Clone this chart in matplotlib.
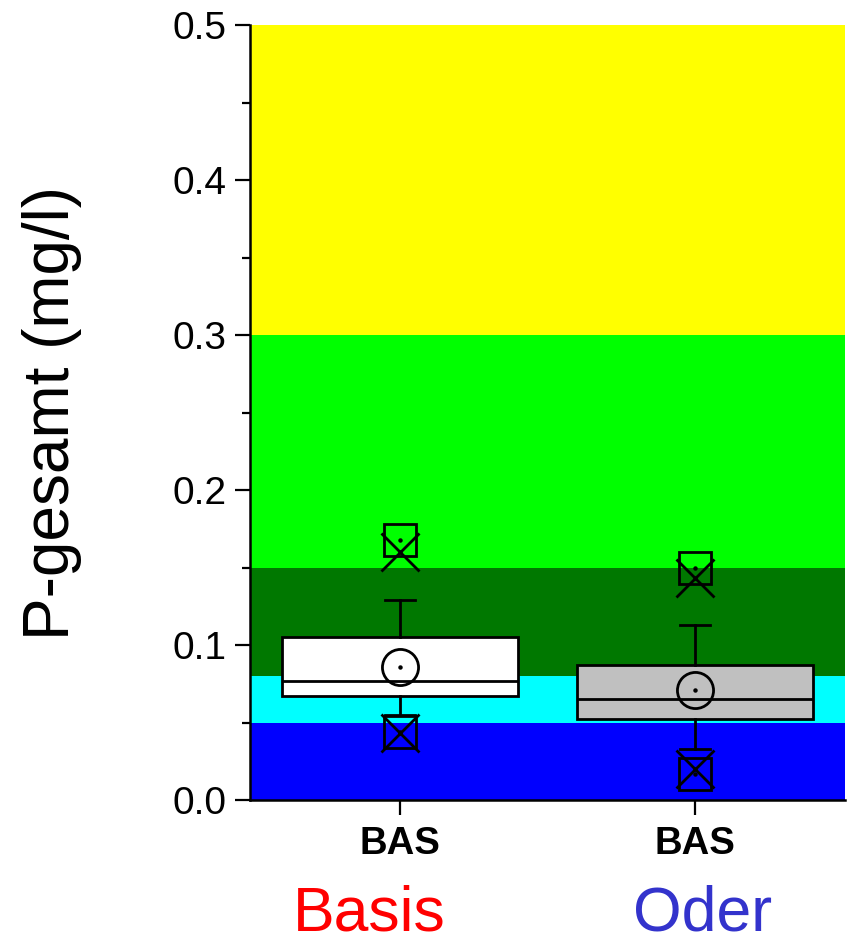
import matplotlib
matplotlib.use("Agg")
import matplotlib.pyplot as plt

plt.rcParams['font.family'] = ['Liberation Sans', 'DejaVu Sans']

# ---- data ----
categories = ["BAS", "BAS"]
groups = ["Basis", "Oder"]
group_colors = ["#FF0000", "#3333CC"]
box_colors = ["#FFFFFF", "#C0C0C0"]
q1 = [0.067, 0.052]
median = [0.077, 0.065]
q3 = [0.105, 0.087]
whisker_low = [0.055, 0.033]
whisker_high = [0.129, 0.113]
mean = [0.086, 0.071]
p1 = [0.043, 0.020]
p99 = [0.160, 0.143]
vmin = [0.044, 0.017]
vmax = [0.168, 0.150]

band_edges = [0.0, 0.05, 0.08, 0.15, 0.30, 0.50]
band_colors = ["#0000FF", "#00FFFF", "#007800", "#00FF00", "#FFFF00"]

yticks = [0.0, 0.1, 0.2, 0.3, 0.4, 0.5]

fig = plt.figure(figsize=(8.5, 9.44), dpi=100)
ax = fig.add_axes([250/850, (944-800)/944, (845-250)/850, (800-25)/944])

for lo, hi, c in zip(band_edges[:-1], band_edges[1:], band_colors):
    ax.axhspan(lo, hi, color=c, lw=0, zorder=0)

positions = [1, 2]
stats = []
for i in range(2):
    stats.append(dict(med=median[i], q1=q1[i], q3=q3[i],
                      whislo=whisker_low[i], whishi=whisker_high[i],
                      mean=mean[i], fliers=[]))
bp = ax.bxp(stats, positions=positions, widths=0.8, patch_artist=True,
            showmeans=False, showfliers=False, capwidths=0.1,
            boxprops=dict(linewidth=2.0, edgecolor='black'),
            medianprops=dict(color='black', linewidth=2.0),
            whiskerprops=dict(color='black', linewidth=2.0),
            capprops=dict(color='black', linewidth=2.0),
            manage_ticks=False)
for patch, c in zip(bp['boxes'], box_colors):
    patch.set_facecolor(c)
    patch.set_zorder(3)
for k in ('medians', 'whiskers', 'caps'):
    for l in bp[k]:
        l.set_zorder(4)

ax.plot(positions, mean, ls='none', marker='o', ms=26, mfc='none',
        mec='black', mew=2.0, zorder=5)
ax.plot(positions, vmin, ls='none', marker='s', ms=23, mfc='none',
        mec='black', mew=2.0, zorder=5)
ax.plot(positions, vmax, ls='none', marker='s', ms=23, mfc='none',
        mec='black', mew=2.0, zorder=5)
ax.plot(positions, p1, ls='none', marker='x', ms=27, mec='black',
        mew=2.0, zorder=5)
ax.plot(positions, p99, ls='none', marker='x', ms=27, mec='black',
        mew=2.0, zorder=5)
for arr in (mean, vmin, vmax):
    ax.plot(positions, arr, ls='none', marker='o', ms=2.2, mfc='black',
            mec='black', zorder=6)

ax.set_xlim(0.49, 2.51)
ax.set_ylim(0, 0.5)
ax.set_yticks(yticks)
ax.set_yticklabels([f"{v:.1f}" for v in yticks])
ax.set_yticks([0.05, 0.15, 0.25, 0.35, 0.45], minor=True)
ax.set_xticks(positions)
ax.set_xticklabels(categories, fontsize=27.5, fontweight='bold')

ax.tick_params(axis='y', which='major', direction='out', length=11,
               width=1.6, labelsize=28, pad=6)
ax.tick_params(axis='y', which='minor', direction='out', length=5.5, width=1.6)
ax.tick_params(axis='x', which='major', direction='out', length=11,
               width=1.6, pad=8)

for s in ('top', 'right'):
    ax.spines[s].set_visible(False)
for s in ('left', 'bottom'):
    ax.spines[s].set_linewidth(1.8)
    ax.spines[s].set_zorder(7)

ax.set_ylabel("P-gesamt (mg/l)", fontsize=46, labelpad=65)

fig.text(369/850, 1-914/944, groups[0], color=group_colors[0], fontsize=45,
         ha='center', va='center')
fig.text(703/850, 1-914/944, groups[1], color=group_colors[1], fontsize=45,
         ha='center', va='center')

fig.savefig("out.png", dpi=100)
